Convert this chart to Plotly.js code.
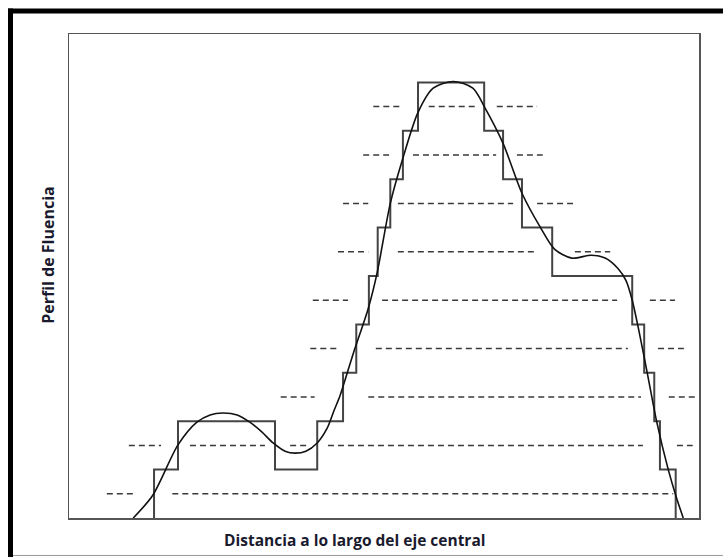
<!DOCTYPE html>
<html>
<head>
<meta charset="utf-8">
<script src="https://cdn.plot.ly/plotly-3.0.1.min.js"></script>
<style>html,body{margin:0;padding:0;background:#fff;}#chart{width:723px;height:557px;}</style>
</head>
<body>
<div id="chart"></div>
<script>
// Fluence profile (smooth curve): position along axis (0-100) and fluence level (0-10)
const curveX = [10.2, 13.3, 17.3, 20.3, 22.4, 24.4, 26.7, 28.7, 30.6, 32.4, 34.3, 35.9, 37.6, 39.4, 41.0, 42.1, 43.0, 45.2, 47.5, 48.9, 51.0, 52.9, 55.4, 57.8, 61.0, 64.1, 66.0, 68.9, 71.9, 74.8, 77.1, 79.8, 82.9, 85.1, 87.1, 88.4, 89.4, 90.6, 91.8, 93.3, 95.1, 96.4, 97.5];
const curveY = [0, 0.47, 1.51, 1.98, 2.13, 2.17, 2.13, 1.98, 1.78, 1.55, 1.38, 1.34, 1.38, 1.55, 1.86, 2.23, 2.52, 3.43, 4.33, 5.06, 6.50, 7.39, 8.38, 8.88, 9.02, 8.88, 8.48, 7.74, 6.71, 6.01, 5.55, 5.37, 5.43, 5.37, 5.16, 4.91, 4.50, 3.78, 2.99, 1.98, 1.01, 0.43, 0];

// Discretised (stepped) fluence: step edges and intensity levels
const stepX = [13.5, 13.5, 17.3, 32.7, 39.4, 43.5, 45.6, 47.6, 49.0, 51.0, 53.0, 55.4, 65.9, 68.9, 71.9, 76.7, 89.4, 91.3, 92.9, 93.8, 96.3];
const stepY = [0, 1, 2, 1, 2, 3, 4, 5, 6, 7, 8, 9, 8, 7, 6, 5, 4, 3, 2, 1, 0];

// Dashed half-level lines: level, segment start, segment end
const dashY  = [0.5, 0.5, 1.5, 1.5, 1.5, 1.5, 1.5, 2.5, 2.5, 2.5, 3.5, 3.5, 3.5, 4.5, 4.5, 4.5, 5.5, 5.5, 5.5, 6.5, 6.5, 6.5, 7.5, 7.5, 7.5, 8.5, 8.5, 8.5];
const dashX0 = [6.0, 16.4, 9.5, 19.2, 35.1, 41.1, 96.5, 33.6, 47.5, 95.2, 38.3, 48.7, 93.5, 38.7, 49.7, 92.2, 42.7, 52.2, 80.3, 43.5, 52.2, 74.3, 46.7, 54.6, 71.1, 48.3, 57.1, 67.9];
const dashX1 = [10.2, 95.9, 14.6, 31.1, 37.8, 91.1, 99.0, 39.0, 90.8, 99.5, 42.5, 88.7, 97.6, 44.3, 87.0, 96.2, 47.5, 74.3, 85.9, 47.5, 70.5, 80.0, 50.8, 67.8, 75.2, 52.7, 64.4, 74.3];

const xTitle = "Distancia a lo largo del eje central";
const yTitle = "Perfil de Fluencia";

const dx = [], dy = [];
for (let i = 0; i < dashY.length; i++) {
  dx.push(dashX0[i], dashX1[i], null);
  dy.push(dashY[i], dashY[i], null);
}

const traces = [
  {x: dx, y: dy, mode: 'lines', line: {color: '#3a3a3a', width: 1.5, dash: '6px,4px'}, hoverinfo: 'skip', connectgaps: false},
  {x: stepX, y: stepY, mode: 'lines', line: {color: '#444', width: 2, shape: 'hv'}, hoverinfo: 'skip'},
  {x: curveX, y: curveY, mode: 'lines', line: {color: '#111', width: 1.6, shape: 'spline', smoothing: 0.8}, hoverinfo: 'skip'}
];

const W = 723, H = 557, L = 69, R = 699, T = 33.5, B = 518;
const px = v => (v - L) / (R - L);
const py = v => (B - v) / (B - T);

const layout = {
  width: W, height: H,
  margin: {l: L, r: W - R, t: T, b: H - B, pad: 0},
  paper_bgcolor: '#fff', plot_bgcolor: '#fff',
  showlegend: false,
  xaxis: {range: [0, 100], showgrid: false, zeroline: false, showticklabels: false, ticks: '',
          showline: true, mirror: true, linecolor: '#555', linewidth: 1.5, fixedrange: true},
  yaxis: {range: [0, 10], showgrid: false, zeroline: false, showticklabels: false, ticks: '',
          showline: true, mirror: true, linecolor: '#555', linewidth: 1.5, fixedrange: true},
  font: {family: '"Open Sans", "Noto Sans", sans-serif', color: '#1a1a2e'},
  annotations: [
    {text: '<b>' + xTitle + '</b>', xref: 'paper', yref: 'paper', x: px(355), y: py(540), xanchor: 'center', yanchor: 'middle', showarrow: false, font: {size: 15.5, color: '#1a1a2e'}},
    {text: '<b>' + yTitle + '</b>', xref: 'paper', yref: 'paper', x: px(48.5), y: py(255), xanchor: 'center', yanchor: 'middle', textangle: -90, showarrow: false, font: {size: 16, color: '#1a1a2e'}}
  ],
  shapes: [
    {type: 'line', xref: 'paper', yref: 'paper', x0: px(8), x1: px(730), y0: py(10.5), y1: py(10.5), line: {color: '#000', width: 5}},
    {type: 'line', xref: 'paper', yref: 'paper', x0: px(10.5), x1: px(10.5), y0: py(8), y1: py(560), line: {color: '#000', width: 5}},
    {type: 'line', xref: 'paper', yref: 'paper', x0: px(13), x1: px(730), y0: py(555.5), y1: py(555.5), line: {color: '#999', width: 1}}
  ]
};

Plotly.newPlot('chart', traces, layout, {displayModeBar: false, staticPlot: true});
</script>
</body>
</html>
